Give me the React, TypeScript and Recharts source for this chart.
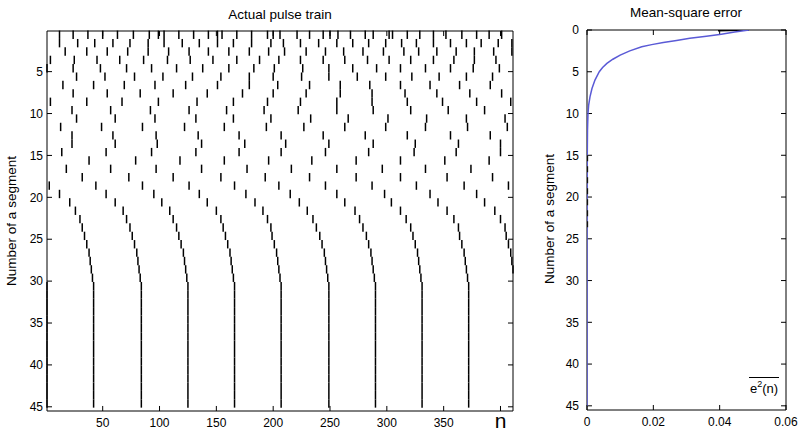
import React from 'react';
import { ScatterChart, Scatter, XAxis, YAxis, ErrorBar, ReferenceLine } from 'recharts';

const rowPulses: number[][] = [
  [12, 24, 37, 50, 63, 77, 91, 99, 104, 117, 130, 143, 151, 155, 168, 181, 195, 200, 206, 221, 232, 244, 250, 257, 268, 281, 288, 302, 305, 318, 329, 341, 352, 366, 379, 390, 401],
  [12, 28, 43, 59, 74, 90, 104, 120, 135, 151, 165, 181, 198, 209, 224, 240, 256, 270, 284, 299, 313, 326, 341, 356, 370, 383, 398, 410],
  [17, 36, 54, 72, 90, 108, 126, 143, 161, 179, 196, 210, 229, 246, 262, 279, 297, 315, 328, 344, 361, 377, 394, 410],
  [4, 25, 45, 65, 86, 107, 127, 147, 168, 188, 205, 224, 244, 263, 283, 302, 321, 341, 359, 377, 396],
  [1, 24, 48, 71, 93, 115, 138, 161, 183, 201, 226, 249, 270, 291, 312, 334, 356, 376, 399],
  [27, 52, 78, 103, 129, 154, 179, 200, 225, 249, 274, 299, 322, 346, 370, 393],
  [15, 42, 69, 96, 123, 151, 179, 204, 232, 259, 285, 312, 338, 364, 391],
  [24, 54, 83, 112, 142, 173, 200, 229, 259, 287, 316, 344, 373, 401],
  [4, 36, 67, 99, 133, 165, 195, 224, 256, 287, 318, 349, 379, 409],
  [23, 57, 92, 126, 159, 192, 222, 256, 288, 321, 354, 386],
  [27, 61, 96, 132, 165, 198, 233, 266, 301, 335, 370, 404],
  [13, 49, 85, 122, 157, 194, 227, 263, 299, 334, 371, 406],
  [23, 59, 97, 134, 170, 207, 244, 281, 318, 356, 391],
  [23, 61, 98, 137, 175, 211, 249, 288, 325, 363, 400],
  [14, 53, 93, 132, 170, 207, 246, 284, 324, 361, 400],
  [38, 79, 118, 157, 196, 234, 273, 312, 351, 390],
  [18, 57, 97, 137, 177, 216, 256, 296, 334, 374],
  [32, 73, 112, 154, 193, 232, 273, 312, 353, 393],
  [3, 44, 85, 126, 166, 205, 246, 287, 326, 368, 407],
  [12, 53, 95, 135, 176, 215, 256, 298, 338, 379],
  [21, 61, 102, 142, 184, 223, 263, 304, 345, 386],
  [26, 68, 109, 150, 191, 230, 272, 312, 353, 395],
  [30, 71, 112, 154, 195, 235, 276, 317, 359, 400],
  [32, 74, 115, 156, 198, 238, 279, 321, 363, 404],
  [34, 76, 117, 158, 199, 241, 282, 323, 364, 405],
  [36, 78, 119, 160, 201, 243, 284, 325, 366, 407],
  [38, 80, 121, 162, 203, 245, 286, 327, 368, 409],
  [39, 81, 122, 163, 204, 246, 287, 328, 369, 410],
  [40, 82, 123, 164, 205, 247, 288, 329, 370, 411],
  [41, 83, 124, 165, 206, 248, 289, 330, 371],
];
// rows 31..45 settle on the same positions
const steadyPulses = [1, 42, 84, 125, 166, 207, 249, 290, 331, 372];
const segmentCount = 45;

const segmentTicks = [5, 10, 15, 20, 25, 30, 35, 40, 45];
const mseSegmentTicks = [0, 5, 10, 15, 20, 25, 30, 35, 40, 45];
const sampleTicks = [50, 100, 150, 200, 250, 300, 350, 400];
const errorTicks = [0, 0.02, 0.04, 0.06];

// Mean-square error per segment
const mseSegments = [0, 0.25, 0.5, 0.75, 1, 1.25, 1.5, 1.75, 2, 2.5, 3, 3.5, 4, 4.5, 5, 6, 7, 8, 9, 10, 12, 15, 20, 25, 30, 35, 40, 45];
const mseValues = [0.0488, 0.0445, 0.0405, 0.036, 0.031, 0.027, 0.023, 0.0195, 0.0165, 0.0129, 0.01, 0.0078, 0.006, 0.0047, 0.0037, 0.0024, 0.0015, 0.0009, 0.0005, 0.0003, 0.00015, 0.00008, 0.00004, 0, 0, 0, 0, 0];

// short dark traces seen under the blue curve
const topTraceSegments = [0, 0.08];
const topTraceValues = [0.0488, 0.0395];
const tailTraceSegments = [15, 24];
const tailTraceValues = [0.00012, 0.00012];

const font = '"Liberation Sans", Arial, Helvetica, sans-serif';
const tickStyle = { fill: '#000', fontSize: 12, fontFamily: font };
const black = { stroke: '#000', strokeWidth: 1 };

// axis ranges
const nDomain: [number, number] = [1, 411];
const segDomain: [number, number] = [0.15, 45.5];
const errDomain: [number, number] = [0, 0.06];
const mseSegDomain: [number, number] = [0, 45.5];

const pulseData: { n: number; seg: number; half: number }[] = [];
for (let k = 1; k <= segmentCount; k++) {
  const row = k <= rowPulses.length ? rowPulses[k - 1] : steadyPulses;
  row.forEach((n) => pulseData.push({ n, seg: k - 0.4, half: 0.5 }));
}

const mseData = mseSegments.map((seg, i) => ({ err: mseValues[i], seg }));
const topTrace = topTraceSegments.map((seg, i) => ({ err: topTraceValues[i], seg }));
const tailTrace = tailTraceSegments.map((seg, i) => ({ err: tailTraceValues[i], seg }));

const noShape = () => <g />;

// MATLAB-style inward tick marks on all four sides of a box
function boxTicks(
  xTicks: number[],
  yTicks: number[],
  xd: [number, number],
  yd: [number, number],
  xLen: number,
  yLen: number,
  key: string,
) {
  const out: React.ReactElement[] = [];
  xTicks.forEach((t, i) => {
    out.push(<ReferenceLine key={`${key}b${i}`} segment={[{ x: t, y: yd[1] }, { x: t, y: yd[1] - yLen }]} stroke="#000" />);
    out.push(<ReferenceLine key={`${key}t${i}`} segment={[{ x: t, y: yd[0] }, { x: t, y: yd[0] + yLen }]} stroke="#000" />);
  });
  yTicks.forEach((t, i) => {
    out.push(<ReferenceLine key={`${key}l${i}`} segment={[{ x: xd[0], y: t }, { x: xd[0] + xLen, y: t }]} stroke="#000" />);
    out.push(<ReferenceLine key={`${key}r${i}`} segment={[{ x: xd[1], y: t }, { x: xd[1] - xLen, y: t }]} stroke="#000" />);
  });
  out.push(<ReferenceLine key={`${key}top`} y={yd[0]} stroke="#000" />);
  out.push(<ReferenceLine key={`${key}right`} x={xd[1]} stroke="#000" />);
  return out;
}

function SampleTick(props: any) {
  const { x, y, payload } = props;
  if (payload.value === 400) {
    return (
      <text x={x} y={y + 10} textAnchor="middle" fontSize={21} fontFamily={font} fill="#000">
        n
      </text>
    );
  }
  return (
    <text x={x} y={y} dy="0.71em" textAnchor="middle" fontSize={12} fontFamily={font} fill="#000">
      {payload.value}
    </text>
  );
}

const labelBase: React.CSSProperties = {
  position: 'absolute',
  fontFamily: font,
  fontSize: 13.5,
  color: '#000',
  whiteSpace: 'nowrap',
  lineHeight: 1,
};

export default function App() {
  return (
    <div style={{ position: 'absolute', left: 0, top: 0, width: 799, height: 431, background: '#fff', overflow: 'hidden' }}>
      {/* Left: pulse raster */}
      <div style={{ position: 'absolute', left: 0, top: 0 }}>
        <ScatterChart width={525} height={431} margin={{ top: 31, right: 12, bottom: 0, left: 0 }}>
          <XAxis
            dataKey="n"
            type="number"
            domain={nDomain}
            ticks={sampleTicks}
            allowDataOverflow
            height={20}
            tickLine={false}
            tickSize={0}
            tickMargin={7}
            tick={<SampleTick />}
            axisLine={black}
          />
          <YAxis
            dataKey="seg"
            type="number"
            reversed
            domain={segDomain}
            ticks={segmentTicks}
            allowDataOverflow
            width={47}
            tickLine={false}
            tickSize={0}
            tickMargin={4}
            tick={tickStyle}
            axisLine={black}
          />
          {boxTicks(sampleTicks, segmentTicks, nDomain, segDomain, 4.4, 0.6, 'p')}
          <Scatter data={pulseData} shape={noShape} isAnimationActive={false} legendType="none">
            <ErrorBar dataKey="half" direction="y" width={0} stroke="#000" strokeWidth={1.5} isAnimationActive={false} />
          </Scatter>
        </ScatterChart>
      </div>

      {/* Right: mean-square error */}
      <div style={{ position: 'absolute', left: 535, top: 0 }}>
        <ScatterChart width={264} height={431} margin={{ top: 30, right: 13, bottom: 0, left: 0 }}>
          <XAxis
            dataKey="err"
            type="number"
            domain={errDomain}
            ticks={errorTicks}
            allowDataOverflow
            height={21}
            tickLine={false}
            tickSize={0}
            tickMargin={7}
            tick={tickStyle}
            tickFormatter={(v: number) => (v === 0 ? '0' : String(v))}
            axisLine={black}
          />
          <YAxis
            dataKey="seg"
            type="number"
            reversed
            domain={mseSegDomain}
            ticks={mseSegmentTicks}
            allowDataOverflow
            width={52}
            tickLine={false}
            tickSize={0}
            tickMargin={8}
            tick={tickStyle}
            axisLine={black}
          />
          {boxTicks(errorTicks, mseSegmentTicks, errDomain, mseSegDomain, 0.0015, 0.6, 'm')}
          <Scatter data={topTrace} shape={noShape} line={{ stroke: '#000', strokeWidth: 1.5 }} isAnimationActive={false} legendType="none" />
          <Scatter data={mseData} shape={noShape} line={{ stroke: '#5a5ad6', strokeWidth: 1.5 }} isAnimationActive={false} legendType="none" />
          <Scatter data={tailTrace} shape={noShape} line={{ stroke: '#111', strokeWidth: 1.5, strokeDasharray: '6 5' }} isAnimationActive={false} legendType="none" />
        </ScatterChart>
      </div>

      {/* Titles and axis labels */}
      <div style={{ ...labelBase, left: 280, top: 15, transform: 'translate(-50%, -50%)' }}>Actual pulse train</div>
      <div style={{ ...labelBase, left: 686, top: 13, transform: 'translate(-50%, -50%)' }}>Mean-square error</div>
      <div style={{ ...labelBase, left: 12, top: 221, transform: 'translate(-50%, -50%) rotate(-90deg)' }}>Number of a segment</div>
      <div style={{ ...labelBase, left: 550, top: 219, transform: 'translate(-50%, -50%) rotate(-90deg)' }}>Number of a segment</div>
      <div
        style={{
          ...labelBase,
          left: 749,
          top: 377,
          fontSize: 13,
          borderTop: '1px solid #000',
          paddingTop: 4,
          paddingLeft: 1,
          paddingRight: 1,
        }}
      >
        e<span style={{ fontSize: 9, position: 'relative', top: -6 }}>2</span>(n)
      </div>
    </div>
  );
}
